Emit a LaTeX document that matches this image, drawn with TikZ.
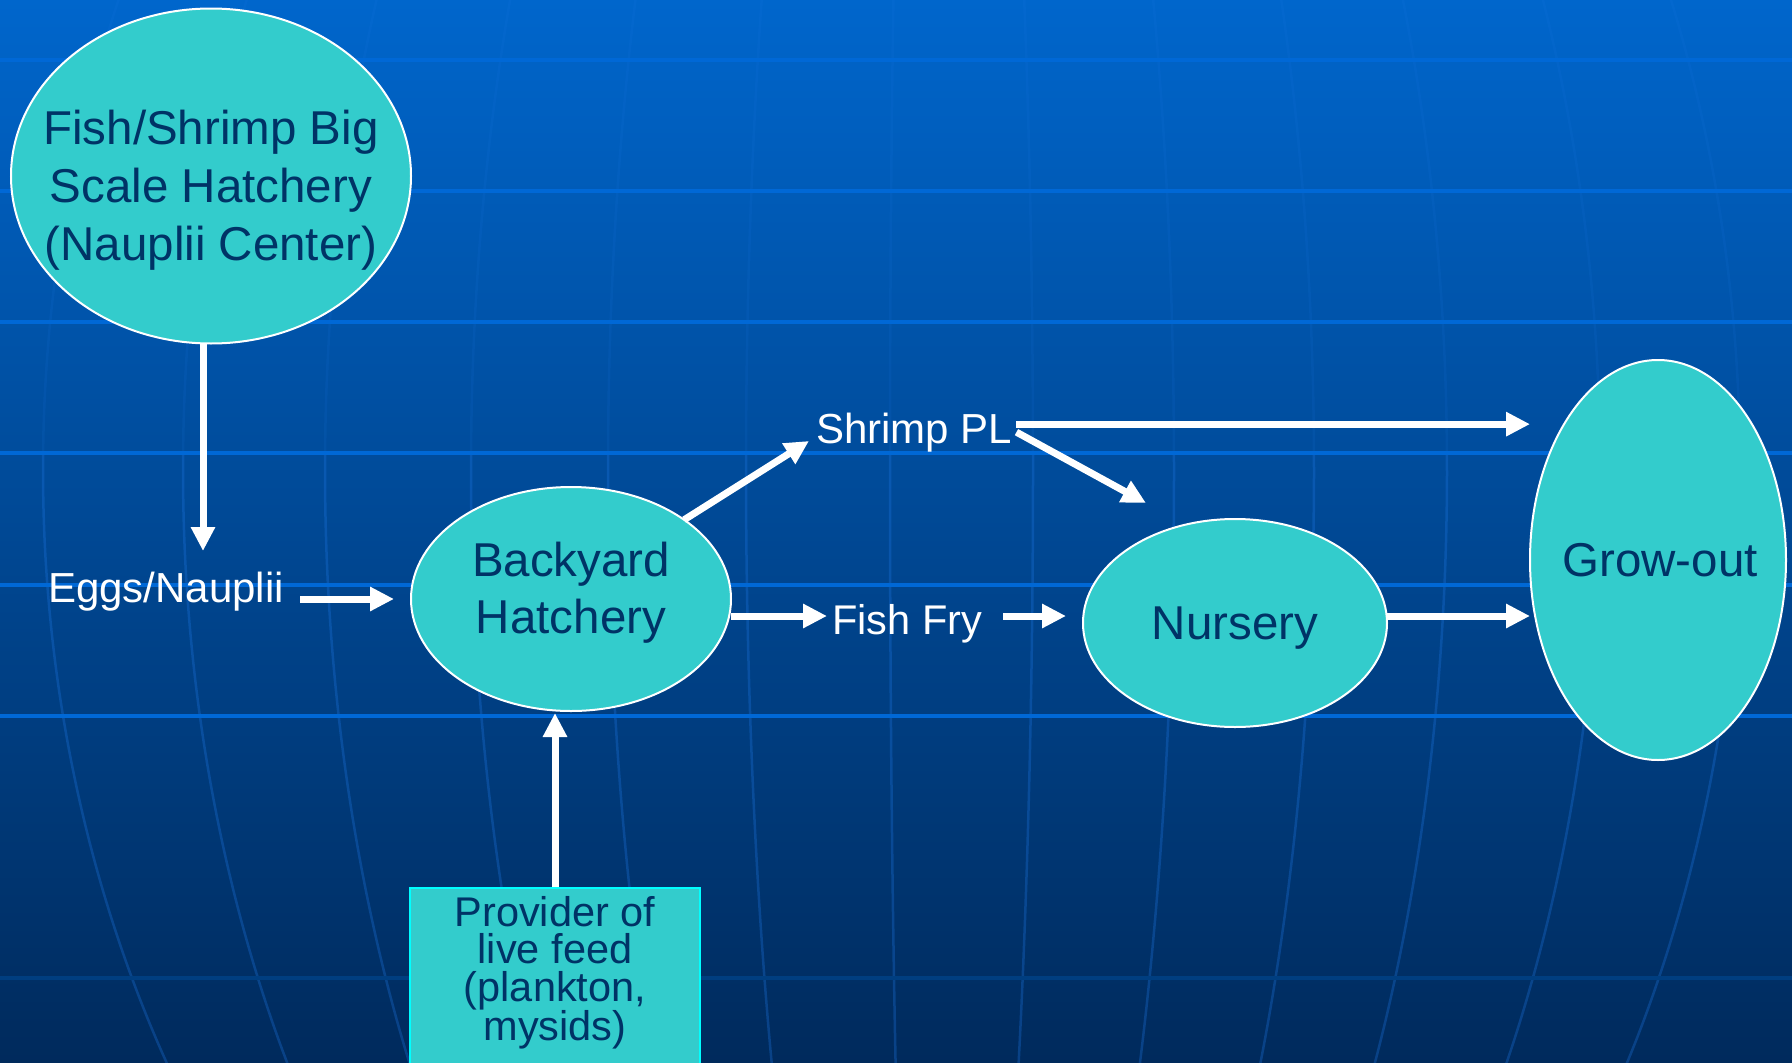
\documentclass[tikz,border=0pt]{standalone}
\usepackage{fontspec}
\setmainfont{Liberation Sans}
\usetikzlibrary{shapes.geometric, arrows.meta, calc}
\definecolor{teal1}{RGB}{51,204,204}
\definecolor{txtnavy}{RGB}{0,51,102}
\definecolor{bgtop}{RGB}{0,102,204}
\definecolor{bgmid}{RGB}{0,80,158}
\definecolor{bgbot}{RGB}{0,42,92}
\definecolor{hline}{RGB}{0,104,214}
\definecolor{hlinedark}{RGB}{0,62,128}
\definecolor{vline}{RGB}{30,120,230}
\definecolor{cyanedge}{RGB}{0,255,255}
\begin{document}
\begin{tikzpicture}[x=1pt, y=-1pt,
  ell/.style={ellipse, draw=white, line width=2pt, fill=teal1, inner sep=0pt, outer sep=0pt},
  ntxt/.style={text=txtnavy, font=\fontsize{47.5}{57}\selectfont, inner sep=0pt, anchor=base},
  ptxt/.style={text=txtnavy, font=\fontsize{41.5}{38}\selectfont, inner sep=0pt, anchor=base},
  wlbl/.style={text=white, font=\fontsize{42}{50}\selectfont, inner sep=0pt, anchor=base west},
  arr/.style={draw=white, line width=7pt, -{Triangle[length=24pt,width=23pt]}},
  hgrid/.style={draw=hline, line width=3.5pt},
  vgrid/.style={draw=vline, line width=2.5pt, opacity=0.3},
  vgridtop/.style={draw=vline, line width=2.5pt, opacity=0.12}]

\useasboundingbox (0,0) rectangle (1792,1063);
\clip (0,0) rectangle (1792,1063);

% background
\shade[top color=bgtop, middle color=bgmid, bottom color=bgbot] (0,0) rectangle (1792,1063);
\foreach \xe in {43,183,325,471,608,746,890,1033,1174,1314,1447,1600,1740}{
  \draw[vgridtop] plot[domain=-10:455, samples=20, variable=\yv, smooth]
    ({930+(\xe-930)*sqrt(1-((\yv-470)/1164)^2)}, \yv);
  \draw[vgrid] plot[domain=455:1073, samples=25, variable=\yv, smooth]
    ({930+(\xe-930)*sqrt(1-((\yv-470)/1164)^2)}, \yv);
}
\foreach \yy in {60,191,322,453,585,716}
  \draw[hgrid] (0,\yy) -- (1792,\yy);
\draw[hgrid, draw=hlinedark] (0,978) -- (1792,978);

% nodes
\node[ell, minimum width=400pt, minimum height=335pt] (fish) at (211,176) {};
\node[ntxt] (fishA) at (211,144) {Fish/Shrimp Big};
\node[ntxt] (fishB) at (211,202) {Scale Hatchery};
\node[ntxt] (fishC) at (211,260) {(Nauplii Center)};

\node[ell, minimum width=320pt, minimum height=224pt] (bh) at (571,599) {};
\node[ntxt] (bhA) at (571,576) {Backyard};
\node[ntxt] (bhB) at (571,633) {Hatchery};

\node[ell, minimum width=304pt, minimum height=208pt] (nur) at (1235,623) {};
\node[ntxt] (nurA) at (1235,639) {Nursery};

\node[ell, minimum width=256pt, minimum height=400pt] (grow) at (1658,560) {};
\node[ntxt] (growA) at (1660,576) {Grow-out};

\node[draw=cyanedge, line width=2.5pt, fill=teal1, minimum width=290pt, minimum height=190pt, inner sep=0pt] (prov) at (555,983) {};
\node[ptxt] (provA) at (555,926) {Provider of};
\node[ptxt] (provB) at (555,963) {live feed};
\node[ptxt] (provC) at (555,1001) {(plankton,};
\node[ptxt] (provD) at (555,1040) {mysids)};

\node[wlbl] (eggs) at (48,602) {Eggs/Nauplii};
\node[wlbl] (shrimp) at (816,443) {Shrimp PL};
\node[wlbl, font=\fontsize{41.5}{50}\selectfont] (fry) at (832,634) {Fish Fry};

\coordinate (eggsin) at (203,551);
\coordinate (shrimpin) at (809,441);
\coordinate (nurin) at (1146,503);

% connectors
\draw[arr] ([xshift=-8pt]fish.south) -- (eggsin);
\draw[arr, shorten <=16pt, shorten >=17pt] (eggs.east |- bh.west) -- (bh.west);
\draw[arr, shorten >=5pt] ([yshift=-17pt]bh.east) -- ([yshift=-17pt]bh.east -| fry.west);
\draw[arr, shorten <=21pt, shorten >=17pt] ([yshift=7pt]nur.west -| fry.east) -- ([yshift=7pt]nur.west);
\draw[arr] ([yshift=7pt]nur.east) -- ([yshift=7pt]nur.east -| grow.west);
\draw[arr] (bh.35) -- (shrimpin);
\draw[arr, shorten <=4pt] ([yshift=8pt]shrimp.east) -- ([yshift=8pt]shrimp.east -| grow.west);
\draw[arr] ([xshift=4pt]shrimp.east) -- (nurin);
\draw[arr, shorten >=2pt] (prov.north) -- (prov.north |- bh.south);
\end{tikzpicture}
\end{document}
